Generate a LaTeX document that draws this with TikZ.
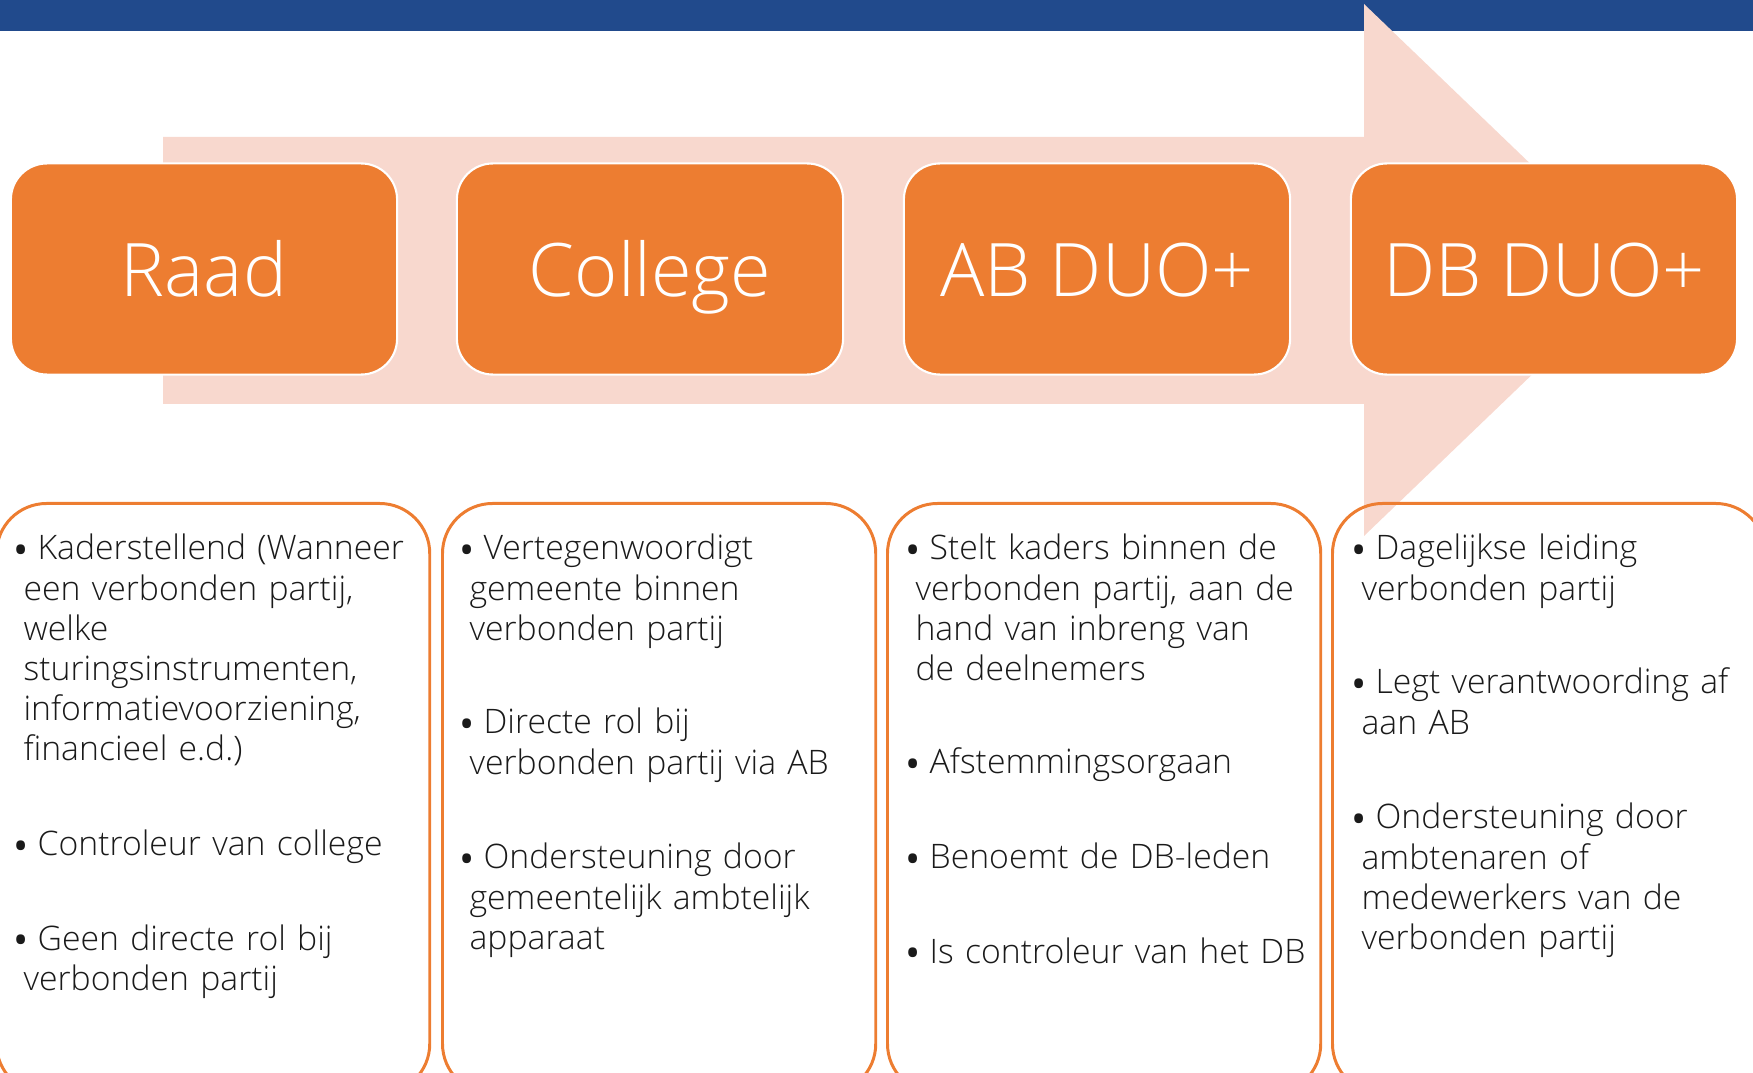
\documentclass[tikz,border=0pt]{standalone}
\usepackage{fontspec}
\setmainfont{Open Sans}[UprightFont=* Light]
\newfontfamily\bulfont{Open Sans}
\usepackage{tikz}

\definecolor{barblue}{HTML}{214A8C}
\definecolor{accorange}{HTML}{ED7D31}
\definecolor{arrowpink}{HTML}{F8D8CE}
\definecolor{txtgray}{HTML}{1A1A1A}
\newcommand{\bl}{\makebox[6.8pt][l]{\raisebox{-1.4pt}{\bulfont\fontsize{11.5}{12}\selectfont\textbullet}}}
\newcommand{\ind}{\hspace*{2.8pt}}

\begin{document}
\begin{tikzpicture}[x=0.01cm, y=-0.01cm,
	head/.style={rectangle, rounded corners=0.36cm, fill=accorange, draw=white, line width=0.6pt,
		minimum width=3.86cm, minimum height=2.11cm, text height=15.4pt, text depth=0pt,
		text=white, font=\fontsize{21}{25}\selectfont},
	panel/.style={rectangle, draw=accorange, line width=0.85pt, rounded corners=0.5cm,
		minimum width=4.33cm, minimum height=5.9cm, anchor=north west},
	item/.style={anchor=base west, inner sep=0pt, text width=4.3cm, align=left, text=txtgray,
		font=\fontsize{9.6}{11.4}\selectfont}]
	\useasboundingbox (0,0) rectangle (1753,1073);
	\clip (0,0) rectangle (1753,1073);
	%\draw[help lines] (0,0) grid[step=100] (1753,1073);
	\fill[barblue] (0,0) rectangle (1753,31);
	\fill[arrowpink] (163,137) -- (1364,137) -- (1364,4) -- (1641,270) -- (1364,536) -- (1364,404) -- (163,404) -- cycle;
	% top row
	\node[head] (raad) at (204,269) {Raad};
	\node[head] (college) at (650,269) {College};
	\node[head] (ab) at (1097,269) {AB DUO+};
	\node[head] (db) at (1544,269) {DB DUO+};
	% panels
	\node[panel] (praad) at (-5,502) {};
	\node[panel] (pcollege) at (441,502) {};
	\node[panel] (pab) at (886,502) {};
	\node[panel] (pdb) at (1331,502) {};
	% Raad
	\node[item] (r1) at (13,560) {\bl Kaderstellend (Wanneer\\ \ind een verbonden partij,\\ \ind welke\\ \ind sturingsinstrumenten,\\ \ind informatievoorziening,\\ \ind financieel e.d.)};
	\node[item] (r2) at (13,856) {\bl Controleur van college};
	\node[item] (r3) at (13,950) {\bl Geen directe rol bij\\ \ind verbonden partij};
	% College
	\node[item] (c1) at (459,560) {\bl Vertegenwoordigt\\ \ind gemeente binnen\\ \ind verbonden partij};
	\node[item] (c2) at (459,734) {\bl Directe rol bij\\ \ind verbonden partij via AB};
	\node[item] (c3) at (459,869) {\bl Ondersteuning door\\ \ind gemeentelijk ambtelijk\\ \ind apparaat};
	% AB DUO+
	\node[item] (a1) at (905,560) {\bl Stelt kaders binnen de\\ \ind verbonden partij, aan de\\ \ind hand van inbreng van\\ \ind de deelnemers};
	\node[item] (a2) at (905,774) {\bl Afstemmingsorgaan};
	\node[item] (a3) at (905,869) {\bl Benoemt de DB-leden};
	\node[item] (a4) at (905,963) {\bl Is controleur van het DB};
	% DB DUO+
	\node[item] (d1) at (1351,560) {\bl Dagelijkse leiding\\ \ind verbonden partij};
	\node[item] (d2) at (1351,694) {\bl Legt verantwoording af\\ \ind aan AB};
	\node[item] (d3) at (1351,829) {\bl Ondersteuning door\\ \ind ambtenaren of\\ \ind medewerkers van de\\ \ind verbonden partij};
\end{tikzpicture}
\end{document}
